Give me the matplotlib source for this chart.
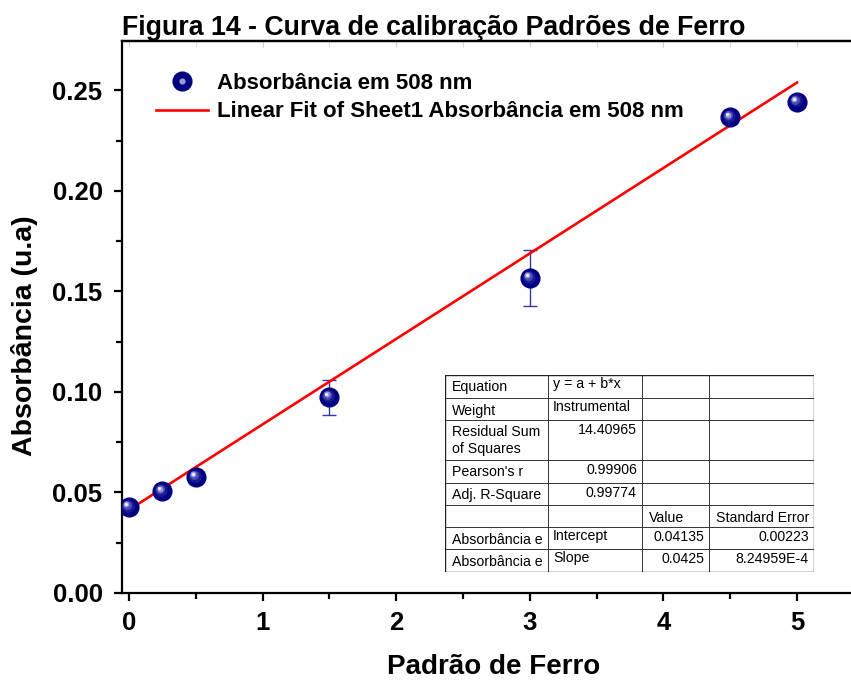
import matplotlib
matplotlib.use("Agg")
import matplotlib.pyplot as plt
import matplotlib.transforms as mtransforms
from matplotlib.lines import Line2D
from matplotlib.legend_handler import HandlerTuple
from matplotlib.ticker import MultipleLocator, FormatStrFormatter

# Iron standard concentrations and measured absorbance at 508 nm
padrao = [0.0, 0.25, 0.5, 1.5, 3.0, 4.5, 5.0]
absorbancia = [0.0428, 0.0506, 0.0577, 0.0974, 0.1567, 0.2365, 0.2443]
erro = [0.0015, 0.0015, 0.0015, 0.0087, 0.0141, 0.0015, 0.0015]

# Linear fit parameters (y = a + b*x)
intercepto = 0.04135
inclinacao = 0.0425
fit_x = [0.0, 5.0]

# Fit report table
tabela = [
    ["Equation", "y = a + b*x", "", ""],
    ["Weight", "Instrumental", "", ""],
    ["Residual Sum\nof Squares", "14.40965", "", ""],
    ["Pearson's r", "0.99906", "", ""],
    ["Adj. R-Square", "0.99774", "", ""],
    ["", "", "Value", "Standard Error"],
    ["Absorbância e", "Intercept", "0.04135", "0.00223"],
    ["Absorbância e", "Slope", "0.0425", "8.24959E-4"],
]

plt.rcParams['font.family'] = ['Liberation Sans', 'DejaVu Sans']

W, H = 851, 682
fig = plt.figure(figsize=(W / 100, H / 100), dpi=100)

def fig_rect(x0, y0, x1, y1):
    return [x0 / W, 1 - y1 / H, (x1 - x0) / W, (y1 - y0) / H]

ax = fig.add_axes(fig_rect(122, 41, 851, 593))
ax.set_xlim(-0.052, 5.404)
ax.set_ylim(0.0, 0.2745)

navy = '#000080'

# Fit line
fy = [intercepto + inclinacao * v for v in fit_x]
line, = ax.plot(fit_x, fy, color='#ff0000', lw=1.9, zorder=3)

# Error bars
ax.errorbar(padrao, absorbancia, yerr=erro, fmt='none', ecolor='#3535a8',
            elinewidth=1.0, capsize=5, capthick=1.0, zorder=2)

# Sphere-looking markers: dark base plus a lighter offset highlight
ax.plot(padrao, absorbancia, 'o', ms=13.5, mfc=navy, mec=navy, zorder=4)
shades = [(9.0, '#1a1a95', -0.9), (6.5, '#4a4ab5', -1.4), (4.2, '#9a9ad8', -1.9), (2.2, '#f2f2ff', -2.2)]
for size, col, off in shades:
    tr = mtransforms.offset_copy(ax.transData, fig=fig, x=off, y=-off, units='points')
    ax.plot(padrao, absorbancia, 'o', ms=size, mfc=col, mec='none', transform=tr, zorder=5)

# Axes styling
for s in ['left', 'bottom', 'top']:
    ax.spines[s].set_linewidth(1.6)
ax.spines['right'].set_visible(False)
ax.xaxis.set_major_locator(MultipleLocator(1))
ax.xaxis.set_minor_locator(MultipleLocator(0.5))
ax.yaxis.set_major_locator(MultipleLocator(0.05))
ax.yaxis.set_minor_locator(MultipleLocator(0.025))
ax.yaxis.set_major_formatter(FormatStrFormatter('%.2f'))
ax.tick_params(which='major', direction='out', length=6, width=1.6,
               labelsize=18.5)
ax.tick_params(axis='y', which='major', pad=8)
ax.tick_params(axis='x', which='major', pad=7)
ax.tick_params(which='minor', direction='out', length=4, width=1.6)
ax.tick_params(top=False, right=False, which='both')
for lab in ax.get_xticklabels() + ax.get_yticklabels():
    lab.set_fontweight('bold')

# Faint ticks along the top edge
top = ax.secondary_xaxis('top')
top.xaxis.set_major_locator(MultipleLocator(1))
top.xaxis.set_minor_locator(MultipleLocator(0.5))
top.tick_params(which='both', direction='in', length=4, color='#d0d0d0',
                labeltop=False)
top.spines['top'].set_linewidth(1.6)

ax.set_xlabel('Padrão de Ferro', fontsize=20, fontweight='bold')
ax.xaxis.set_label_coords(0.510, -0.111)
ax.set_ylabel('Absorbância (u.a)', fontsize=20.5, fontweight='bold')
ax.yaxis.set_label_coords(-0.1155, 0.4656)
ax.set_title('Figura 14 - Curva de calibração Padrões de Ferro', loc='left',
             fontsize=19.3, fontweight='bold', pad=3)

# Legend
h_base = Line2D([], [], ls='none', marker='o', ms=13.5, mfc=navy, mec=navy)
h_hl = Line2D([], [], ls='none', marker='o', ms=4.5, mfc='#9a9ad8', mec='none')
leg = ax.legend([(h_base, h_hl), line],
                ['Absorbância em 508 nm', 'Linear Fit of Sheet1 Absorbância em 508 nm'],
                handler_map={tuple: HandlerTuple(ndivide=1)},
                loc='upper left', bbox_to_anchor=(0.0466, 0.942), frameon=False,
                borderpad=0, borderaxespad=0,
                prop={'weight': 'bold', 'size': 16}, handlelength=2.34,
                handletextpad=0.4, labelspacing=0.33)

# Fit report table
tx = fig.add_axes(fig_rect(445, 375, 814, 572))
tx.set_xlim(0, 369)
tx.set_ylim(197, 0)
tx.axis('off')
tx.patch.set_visible(False)
cols = [0, 103, 197, 264, 369]
rows = [0, 23, 45, 85, 108, 130, 152, 174, 197]
tx.add_patch(plt.Rectangle((0, 0), 369, 197, facecolor='white',
                           edgecolor='#222222', lw=1.0, zorder=0))
for c in cols[1:-1]:
    tx.plot([c, c], [0, 197], color='#333333', lw=0.7)
for r in rows[1:-1]:
    tx.plot([0, 369], [r, r], color='#333333', lw=0.7)

fs = 10.2
numeric = lambda s: s[:1].isdigit()
for i, row in enumerate(tabela):
    y0 = rows[i]
    for j, txt in enumerate(row):
        if not txt:
            continue
        yc = y0 + 12.5 if '\n' not in txt else y0 + 20.5
        if j >= 1 and numeric(txt):
            tx.text(cols[j + 1] - 5, y0 + 10, txt, ha='right', va='center', fontsize=fs)
        elif j == 1:
            tx.text(cols[1] + 5, y0 + 9, txt, ha='left', va='center', fontsize=fs)
        else:
            tx.text(cols[j] + 6.5, yc, txt, ha='left', va='center', fontsize=fs,
                    linespacing=1.2)

fig.savefig('out.png', dpi=100)
